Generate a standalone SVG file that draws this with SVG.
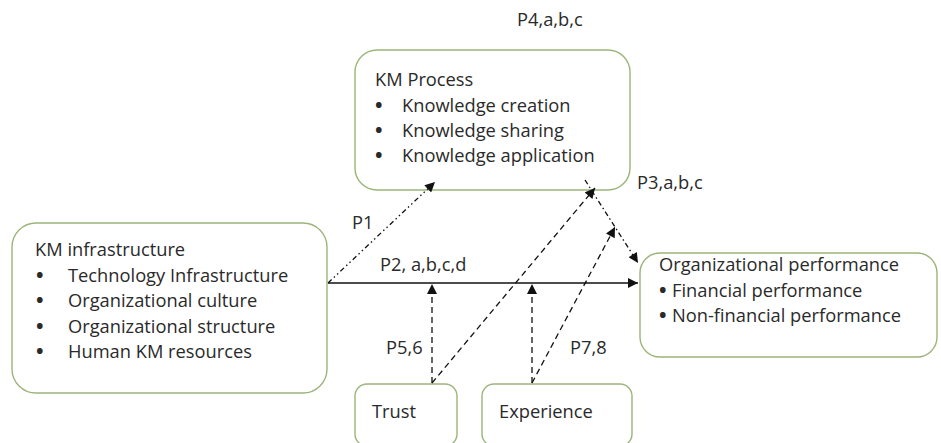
<svg xmlns="http://www.w3.org/2000/svg" width="941" height="443" viewBox="0 0 941 443">
<defs>
<marker id="ah" viewBox="0 0 10 10" refX="10" refY="5" markerWidth="11" markerHeight="10" markerUnits="userSpaceOnUse" orient="auto">
<path d="M0,0 L10,5 L0,10 z" fill="#111"/>
</marker>
</defs>
<style>
.box{fill:#fff;stroke:#9cb57a;stroke-width:1.4}
text{font-family:"Open Sans","Liberation Sans",sans-serif;font-size:18.3px;fill:#2a2a2a}
.b{font-size:20px;font-weight:bold}
.c{fill:none;stroke:#111;stroke-width:1.3}
.dash{stroke-dasharray:6,4}
.dd{stroke-dasharray:5,3,1.5,3,1.5,3}
.dot{stroke-dasharray:5,3,1.5,3}
</style>
<rect width="941" height="443" fill="#fff"/>
<text x="517" y="26">P4,a,b,c</text>
<g id="kmprocess">
<rect class="box" x="355" y="50" width="275" height="140" rx="22"/>
<text x="375" y="86">KM Process</text>
<text class="b" x="375" y="112">•</text><text x="402" y="112">Knowledge creation</text>
<text class="b" x="375" y="137">•</text><text x="402" y="137">Knowledge sharing</text>
<text class="b" x="375" y="162">•</text><text x="402" y="162">Knowledge application</text>
</g>
<g id="kminfra">
<rect class="box" x="12" y="223" width="315" height="170" rx="24"/>
<text x="35" y="256">KM infrastructure</text>
<text class="b" x="36" y="282">•</text><text x="68" y="282">Technology Infrastructure</text>
<text class="b" x="36" y="307">•</text><text x="68" y="307">Organizational culture</text>
<text class="b" x="36" y="333">•</text><text x="68" y="333">Organizational structure</text>
<text class="b" x="36" y="358">•</text><text x="68" y="358">Human KM resources</text>
</g>
<g id="orgperf">
<rect class="box" x="640" y="253" width="297" height="104" rx="20"/>
<text x="659" y="271">Organizational performance</text>
<text class="b" x="659" y="297">•</text><text x="672" y="297">Financial performance</text>
<text class="b" x="659" y="322">•</text><text x="672" y="322">Non-financial performance</text>
</g>
<g id="trust">
<rect class="box" x="355" y="384" width="102" height="62" rx="12"/>
<text x="372" y="418">Trust</text>
</g>
<g id="experience">
<rect class="box" x="482" y="384" width="150" height="62" rx="12"/>
<text x="499" y="418">Experience</text>
</g>
<g id="connectors">
<line class="c" x1="328" y1="283" x2="638" y2="283" marker-end="url(#ah)"/>
<line class="c dd" x1="328" y1="283" x2="435" y2="182" marker-end="url(#ah)"/>
<line class="c dot" x1="585" y1="180" x2="638" y2="263" marker-end="url(#ah)"/>
<line class="c dash" x1="432" y1="383" x2="432" y2="284" marker-end="url(#ah)"/>
<line class="c dash" x1="432" y1="383" x2="595" y2="188" marker-end="url(#ah)"/>
<line class="c dash" x1="532" y1="383" x2="532" y2="284" marker-end="url(#ah)"/>
<line class="c dash" x1="532" y1="383" x2="615" y2="227" marker-end="url(#ah)"/>
</g>
<text x="637" y="189">P3,a,b,c</text>
<text x="352" y="229">P1</text>
<text x="380" y="271">P2, a,b,c,d</text>
<text x="386" y="354">P5,6</text>
<text x="570" y="354">P7,8</text>
</svg>
